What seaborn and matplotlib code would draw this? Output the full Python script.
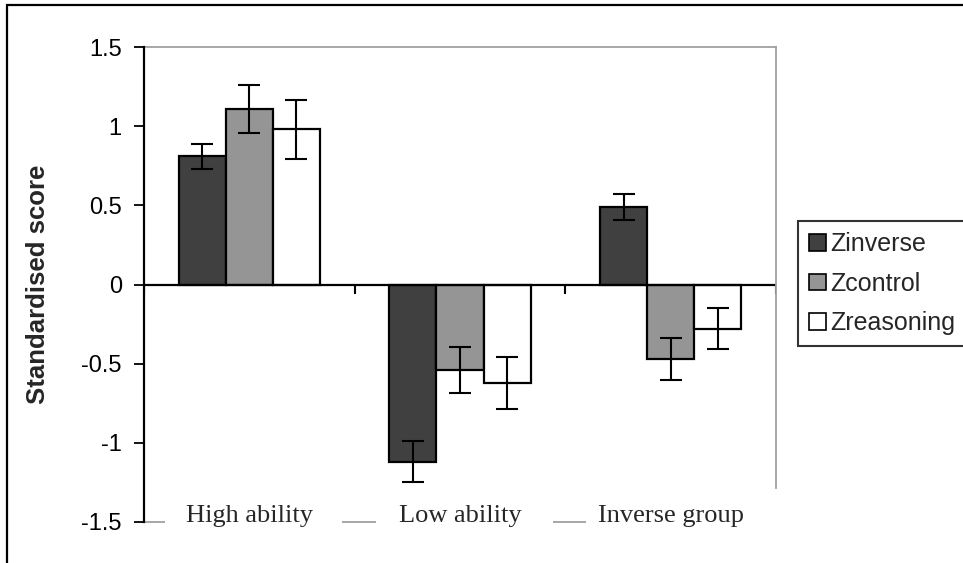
import matplotlib
matplotlib.use("Agg")
import matplotlib.pyplot as plt
import matplotlib.patches as mpatches
import seaborn as sns
import pandas as pd
import numpy as np

groups = ["High ability", "Low ability", "Inverse group"]
series = ["Zinverse", "Zcontrol", "Zreasoning"]
zinverse = [0.81, -1.12, 0.49]
zcontrol = [1.11, -0.54, -0.47]
zreasoning = [0.98, -0.62, -0.28]
err_inverse = [0.08, 0.13, 0.08]
err_control = [0.15, 0.145, 0.13]
err_reasoning = [0.185, 0.165, 0.13]
yticks = [-1.5, -1, -0.5, 0, 0.5, 1, 1.5]
ytick_labels = ["-1.5", "-1", "-0.5", "0", "0.5", "1", "1.5"]

values = [zinverse, zcontrol, zreasoning]
errors = [err_inverse, err_control, err_reasoning]
df = pd.DataFrame({
    "group": [g for s in series for g in groups],
    "series": [s for s in series for g in groups],
    "value": [v for vals in values for v in vals],
})

sns.set_style("white")
plt.rcParams["font.family"] = ["Liberation Sans", "DejaVu Sans"]

fig = plt.figure(figsize=(9.63, 5.63), dpi=100)
ax = fig.add_axes([144 / 963, 1 - 522 / 563, (776 - 144) / 963, (522 - 47) / 563])

palette = {"Zinverse": "#404040", "Zcontrol": "#959595", "Zreasoning": "#ffffff"}
sns.barplot(data=df, x="group", y="value", hue="series", order=groups,
            hue_order=series, palette=palette, errorbar=None, width=0.67,
            edgecolor="black", linewidth=1.6, saturation=1, ax=ax, legend=False)

# error bars placed at bar ends
for container, errs in zip(ax.containers, errors):
    for bar, e in zip(container.patches, errs):
        x = bar.get_x() + bar.get_width() / 2
        y = bar.get_y() + bar.get_height()
        ax.errorbar(x, y, yerr=e, color="black", lw=1.5, capsize=8, capthick=1.5,
                    zorder=6)

ax.set_xlim(-0.5, len(groups) - 0.5)
ax.set_ylim(-1.5, 1.5)
ax.set_yticks(yticks)
ax.set_yticklabels(ytick_labels, fontsize=17)
ax.tick_params(axis="y", direction="out", length=7, width=1.3, pad=9, left=True,
               colors="black")
ax.set_xticks([])
ax.set_xlabel("")
ax.set_ylabel("Standardised score", fontsize=18.5, fontweight="bold")
ax.yaxis.set_label_coords(-0.148, 0.5)

# zero line with category separators
ax.axhline(0, color="black", lw=1.6, zorder=1)
bounds = np.arange(len(groups) + 1) - 0.5
ax.vlines(bounds, -0.06, 0, color="black", lw=1.5, zorder=1)

for side in ["top", "right", "bottom"]:
    ax.spines[side].set_color("#a0a0a0")
    ax.spines[side].set_linewidth(1.3)
ax.spines["left"].set_color("black")
ax.spines["left"].set_linewidth(1.6)
ax.spines["left"].set_zorder(7)
ax.spines["right"].set_bounds(-1.285, 1.5)
ax.spines["bottom"].set_bounds(-0.5, 2.4)

# category labels on white boxes that interrupt the bottom border
for i, g in enumerate(groups):
    ax.add_patch(mpatches.Rectangle((i + 0.02 - 0.42, -1.56), 0.84, 0.14,
                                    facecolor="white", edgecolor="none",
                                    zorder=4, clip_on=False))
    ax.text(i, -1.46, g, ha="center", va="center", fontsize=19,
            family=["Liberation Serif", "DejaVu Serif"], zorder=5,
            clip_on=False)

handles = [mpatches.Patch(facecolor=palette[s], edgecolor="black", lw=1.2) for s in series]
leg = fig.legend(handles, series, loc="upper left",
                 bbox_to_anchor=(798 / 963, 1 - 221 / 563), fontsize=18,
                 frameon=True, fancybox=False, shadow=False, handlelength=0.65,
                 handleheight=0.65, handletextpad=0.2, labelspacing=0.62,
                 borderpad=0.45, borderaxespad=0)
leg.get_frame().set_edgecolor("black")
leg.get_frame().set_linewidth(1.5)

fig.add_artist(mpatches.Rectangle((7 / 963, -0.1), 1.2, 1.1 - 5 / 563,
                                  transform=fig.transFigure, fill=False,
                                  edgecolor="black", lw=1.6, clip_on=False))

fig.savefig("out.png", dpi=100)
